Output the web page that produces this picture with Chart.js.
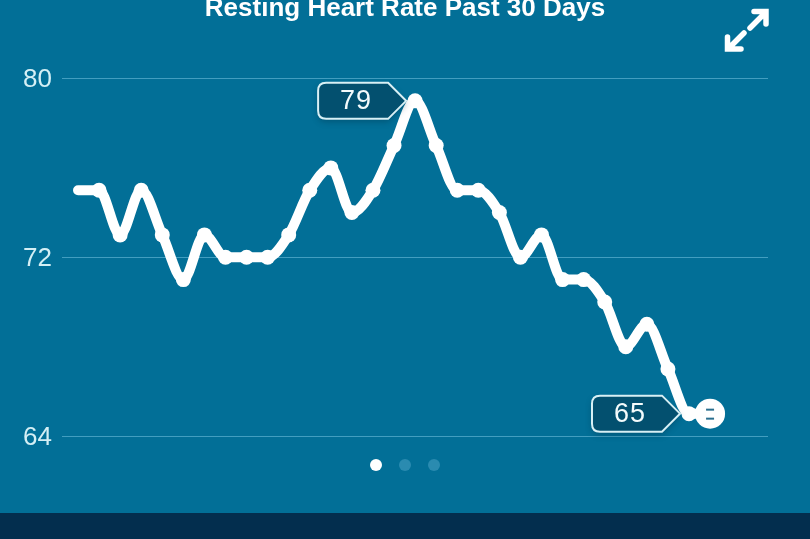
<!DOCTYPE html>
<html>
<head>
<meta charset="utf-8">
<title>Resting Heart Rate</title>
<style>
  html, body { margin: 0; padding: 0; background: #02709a; }
  #wrap { position: relative; width: 810px; height: 539px; overflow: hidden; background: #026f97; }
  #chart { position: absolute; left: 0; top: 0; }
  #title { position: absolute; left: 0; top: -6px; width: 810px; text-align: center; color: #fff; font: bold 26px/26px "Liberation Sans"; }
  #footer { position: absolute; left: 0; top: 513px; width: 810px; height: 26px; background: #032e4e; }
  .dot { position: absolute; top: 459px; width: 12px; height: 12px; border-radius: 50%; background: #2a8bb0; }
  #expand { position: absolute; left: 715px; top: 0; }
</style>
</head>
<body>
<div id="wrap">
  <canvas id="chart" width="810" height="539"></canvas>
  <div id="title"></div>
  <svg id="expand" width="65" height="60" fill="none" stroke="#fff" stroke-width="5.5" stroke-linecap="round" stroke-linejoin="miter">
    <path d="M39 11.5H51V24M50 13L35 28"/>
    <path d="M12.5 37V49H26M14 48L29 33"/>
  </svg>
  <div class="dot" style="left:370px;background:#fff"></div>
  <div class="dot" style="left:399px"></div>
  <div class="dot" style="left:428px"></div>
  <div id="footer"></div>
</div>
<script src="https://cdn.jsdelivr.net/npm/chart.js@4"></script>
<script>
const days = [0, 1, 2, 3, 4, 5, 6, 7, 8, 9, 10, 11, 12, 13, 14, 15, 16, 17, 18, 19, 20, 21, 22, 23, 24, 25, 26, 27, 28, 29, 30];
const restingRate = [75, 75, 73, 75, 73, 71, 73, 72, 72, 72, 73, 75, 76, 74, 75, 77, 79, 77, 75, 75, 74, 72, 73, 71, 71, 70, 68, 69, 67, 65, 65];
const yTicks = [64, 72, 80];
const calloutDays = [16, 29];
const chartTitle = 'Resting Heart Rate Past 30 Days';

document.getElementById('title').textContent = chartTitle;

// value badges and the marker on today's point
const calloutPlugin = {
  id: 'callouts',
  afterDatasetsDraw(chart) {
    const ctx = chart.ctx;
    const xs = chart.scales.x;
    const ys = chart.scales.y;

    calloutDays.forEach(day => {
      const tipX = xs.getPixelForValue(day) - 9;
      const midY = ys.getPixelForValue(restingRate[day]);
      const left = tipX - 88, right = tipX - 18, top = midY - 18, bottom = midY + 18, r = 8;

      ctx.save();
      ctx.shadowColor = 'rgba(0, 40, 60, 0.35)';
      ctx.shadowBlur = 6;
      ctx.shadowOffsetY = 3;
      ctx.beginPath();
      ctx.moveTo(left + r, top);
      ctx.lineTo(right, top);
      ctx.lineTo(tipX, midY);
      ctx.lineTo(right, bottom);
      ctx.lineTo(left + r, bottom);
      ctx.quadraticCurveTo(left, bottom, left, bottom - r);
      ctx.lineTo(left, top + r);
      ctx.quadraticCurveTo(left, top, left + r, top);
      ctx.closePath();
      ctx.fillStyle = '#03506f';
      ctx.fill();
      ctx.shadowColor = 'transparent';
      ctx.lineWidth = 2;
      ctx.strokeStyle = '#d8f0f5';
      ctx.stroke();

      ctx.fillStyle = '#f4fbfc';
      ctx.font = '27px "Liberation Sans"';
      ctx.textAlign = 'center';
      ctx.textBaseline = 'middle';
      ctx.letterSpacing = '1px';
      ctx.fillText(String(restingRate[day]), tipX - 50, midY + 1);
      ctx.restore();
    });

    // two small dashes inside the last point
    const lastX = xs.getPixelForValue(days[days.length - 1]);
    const lastY = ys.getPixelForValue(restingRate[restingRate.length - 1]);
    ctx.save();
    ctx.strokeStyle = '#2a6f8f';
    ctx.lineWidth = 2;
    [-4, 5].forEach(dy => {
      ctx.beginPath();
      ctx.moveTo(lastX - 4, lastY + dy);
      ctx.lineTo(lastX + 4, lastY + dy);
      ctx.stroke();
    });
    ctx.restore();
  }
};

new Chart(document.getElementById('chart').getContext('2d'), {
  type: 'line',
  data: {
    datasets: [{
      data: days.map((d, i) => ({ x: d, y: restingRate[i] })),
      borderColor: '#ffffff',
      backgroundColor: '#ffffff',
      borderWidth: 10,
      borderCapStyle: 'round',
      borderJoinStyle: 'round',
      cubicInterpolationMode: 'monotone',
      clip: false,
      pointBorderWidth: 0,
      pointBackgroundColor: '#ffffff',
      pointRadius: ctx => ctx.dataIndex === days.length - 1 ? 15 : (ctx.dataIndex === 0 ? 0 : 7.5)
    }]
  },
  options: {
    responsive: false,
    animation: false,
    devicePixelRatio: 1,
    layout: { padding: { top: 78.5, right: 42, bottom: 103, left: 0 } },
    plugins: {
      legend: { display: false },
      tooltip: { enabled: false },
      title: { display: false }
    },
    scales: {
      x: {
        type: 'linear',
        min: -0.76,
        max: 32.75,
        display: false
      },
      y: {
        min: 64,
        max: 80,
        afterFit: scale => { scale.width = 62; },
        afterBuildTicks: scale => { scale.ticks = yTicks.map(v => ({ value: v })); },
        border: { display: false },
        grid: { color: 'rgba(110, 190, 220, 0.6)', lineWidth: 1, drawTicks: false },
        ticks: {
          color: '#d4eff5',
          padding: 10,
          labelOffset: 1.5,
          font: { family: '"Liberation Sans"', size: 26 }
        }
      }
    }
  },
  plugins: [calloutPlugin]
});
</script>
</body>
</html>
